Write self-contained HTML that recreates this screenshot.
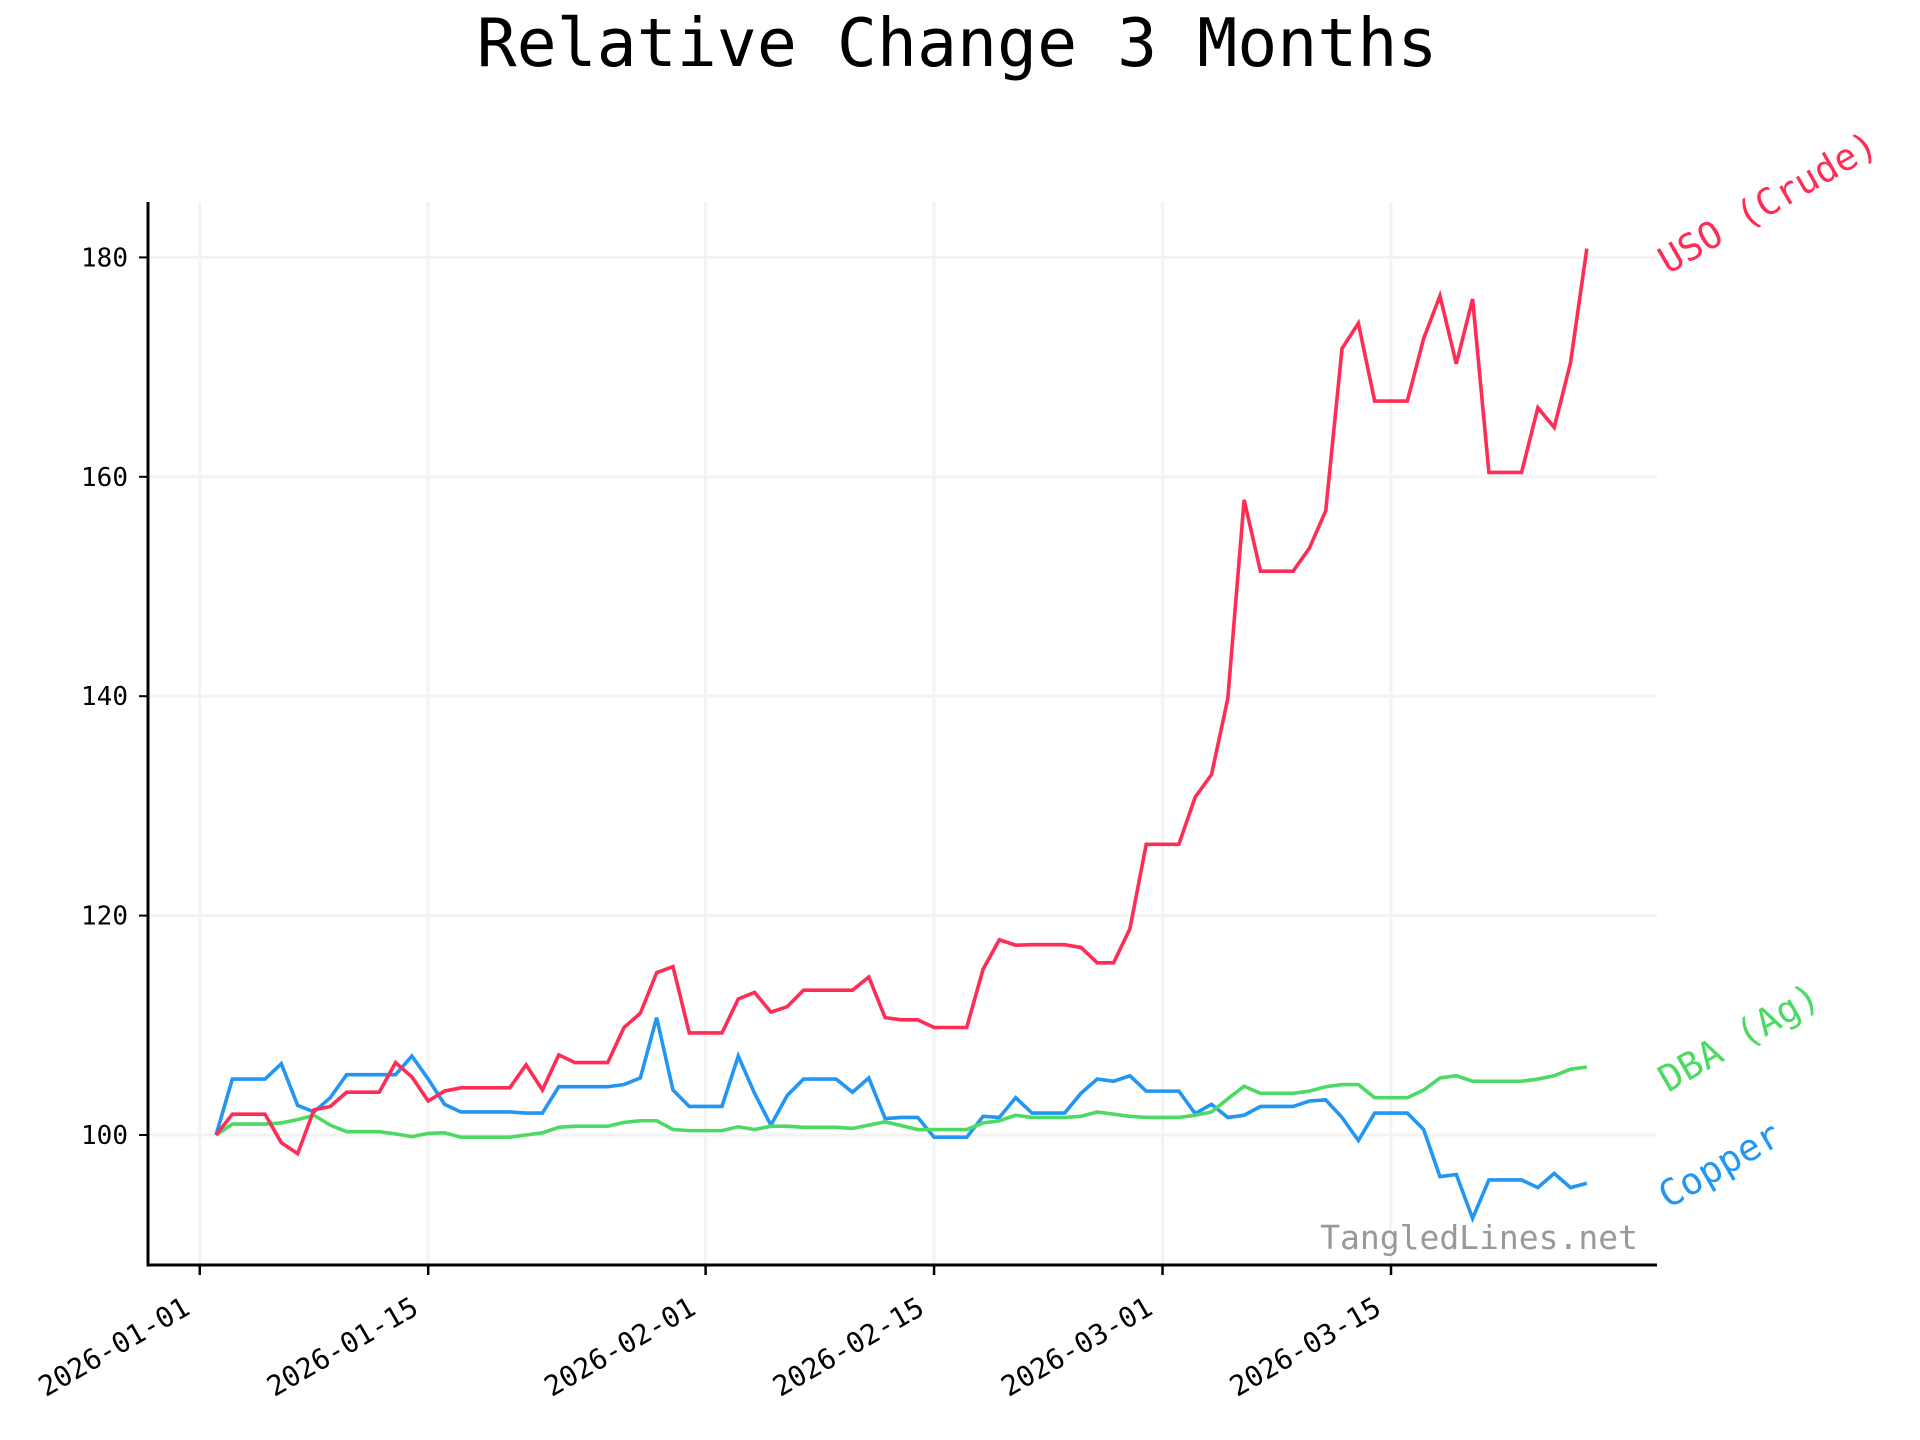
<!DOCTYPE html>
<html><head><meta charset="utf-8"><style>
html,body{margin:0;padding:0;background:#fff;}
svg{display:block;}
text{font-family:"DejaVu Sans Mono","Liberation Mono",monospace;}
</style></head>
<body>
<svg id="chart" width="1920" height="1440" viewBox="0 0 1920 1440" xmlns="http://www.w3.org/2000/svg">
<text x="957" y="66" font-size="66.5" text-anchor="middle" fill="#000">Relative Change 3 Months</text>
<g id="grid"></g>
<g id="series"></g>
<g id="axes"></g>
<text x="1638" y="1249" font-size="33" text-anchor="end" fill="#999">TangledLines.net</text>
</svg>
<script>
const days = [];
for (let d = 1; d <= 85; d++) days.push(d);
const uso = [100,101.9,101.9,101.9,99.3,98.3,102.3,102.6,103.9,103.9,103.9,106.6,105.3,103.1,104.0,104.3,104.3,104.3,104.3,106.4,104.1,107.3,106.6,106.6,106.6,109.8,111.1,114.8,115.35,109.3,109.3,109.3,112.4,113.0,111.2,111.7,113.2,113.2,113.2,113.2,114.4,110.7,110.5,110.5,109.8,109.8,109.8,115.1,117.8,117.3,117.35,117.35,117.35,117.1,115.7,115.7,118.8,126.5,126.5,126.5,130.8,132.85,139.8,157.9,151.4,151.4,151.4,153.5,156.9,171.7,174.0,166.9,166.9,166.9,172.6,176.5,170.3,176.2,160.4,160.4,160.4,166.3,164.5,170.4,180.8];
const dba = [100,101.0,101.0,101.0,101.1,101.4,101.8,100.9,100.3,100.3,100.3,100.1,99.85,100.15,100.2,99.8,99.8,99.8,99.8,100.0,100.2,100.7,100.8,100.8,100.8,101.15,101.3,101.3,100.5,100.4,100.4,100.4,100.75,100.5,100.8,100.8,100.7,100.7,100.7,100.6,100.9,101.2,100.85,100.5,100.5,100.5,100.5,101.1,101.3,101.8,101.6,101.6,101.6,101.7,102.1,101.9,101.7,101.6,101.6,101.6,101.8,102.1,103.3,104.45,103.8,103.8,103.8,104.0,104.4,104.6,104.6,103.4,103.4,103.4,104.1,105.2,105.4,104.9,104.9,104.9,104.9,105.1,105.4,106.0,106.2];
const copper = [100,105.1,105.1,105.1,106.5,102.7,102.1,103.4,105.5,105.5,105.5,105.5,107.2,105.1,102.8,102.1,102.1,102.1,102.1,102.0,102.0,104.4,104.4,104.4,104.4,104.6,105.2,110.7,104.1,102.6,102.6,102.6,107.2,103.8,100.9,103.6,105.1,105.1,105.1,103.9,105.2,101.5,101.6,101.6,99.8,99.8,99.8,101.7,101.6,103.4,102.0,102.0,102.0,103.8,105.1,104.9,105.4,104.0,104.0,104.0,101.95,102.8,101.6,101.8,102.6,102.6,102.6,103.1,103.2,101.6,99.5,102.0,102.0,102.0,100.5,96.2,96.4,92.4,95.9,95.9,95.9,95.2,96.5,95.2,95.6];
const yTicks = [100,120,140,160,180];
const xTickDays = [0,14,31,45,59,73];
const xTickLabels = ["2026-01-01","2026-01-15","2026-02-01","2026-02-15","2026-03-01","2026-03-15"];
const seriesNames = ["USO (Crude)","DBA (Ag)","Copper"];

const L=148,R=1657,T=202,B=1265;
const x0=-3.17,x1=89.3,y0=88.15,y1=185.05;
function xs(d){return L+(d-x0)/(x1-x0)*(R-L);}
function ys(v){return B-(v-y0)/(y1-y0)*(B-T);}
const NS="http://www.w3.org/2000/svg";
function mk(tag,attrs,parent){const e=document.createElementNS(NS,tag);for(const k in attrs)e.setAttribute(k,attrs[k]);parent.appendChild(e);return e;}
const grid=document.getElementById('grid'),axes=document.getElementById('axes'),ser=document.getElementById('series');

yTicks.forEach(v=>{
  const g=mk('line',{x1:L,x2:R,y1:ys(v),y2:ys(v),stroke:'#f3f3f3','stroke-width':3},grid);
  
  
  const t=mk('line',{x1:L-9,x2:L,y1:ys(v),y2:ys(v),stroke:'#000','stroke-width':2},axes);
  
  
  const lb=mk('text',{x:L-20,y:ys(v)+9,'font-size':26,'text-anchor':'end',fill:'#000'},axes);
  lb.textContent=v;
  
  
});
xTickDays.forEach((d,i)=>{
  const g=mk('line',{x1:xs(d),x2:xs(d),y1:T,y2:B,stroke:'#f3f3f3','stroke-width':3},grid);
  
  
  const t=mk('line',{x1:xs(d),x2:xs(d),y1:B,y2:B+10,stroke:'#000','stroke-width':2.5},axes);
  
  
  const X=xs(d)-8,Y=B+48;
  const lb=mk('text',{x:X,y:Y,'font-size':28,'text-anchor':'end',fill:'#000',transform:`rotate(-30 ${X} ${Y})`},axes);
  lb.textContent=xTickLabels[i];
  
  
});
const la=mk('line',{x1:L,x2:L,y1:T,y2:B+1.5,stroke:'#000','stroke-width':3},axes);


const lbx=mk('line',{x1:L-1.5,x2:R,y1:B,y2:B,stroke:'#000','stroke-width':3},axes);



const all=[[copper,'#2196f3','copper-line'],[dba,'#4cd964','dba-line'],[uso,'#ff2d55','uso-line']];
all.forEach(([vals,col,name])=>{
  const p=mk('polyline',{points:vals.map((v,i)=>xs(days[i])+','+ys(v)).join(' '),fill:'none',stroke:col,'stroke-width':3.6,'stroke-linejoin':'miter'},ser);
  
  
});
const lblInfo=[[uso,'#ff2d55'],[dba,'#4cd964'],[copper,'#2196f3']];
lblInfo.forEach(([vals,col],i)=>{
  const X=1668,Y=ys(vals[vals.length-1])+26;
  const t=mk('text',{x:X,y:Y,'font-size':37,fill:col,transform:`rotate(-30 ${X} ${Y})`},ser);
  t.textContent=seriesNames[i];
  
  
});
</script>
</body></html>
